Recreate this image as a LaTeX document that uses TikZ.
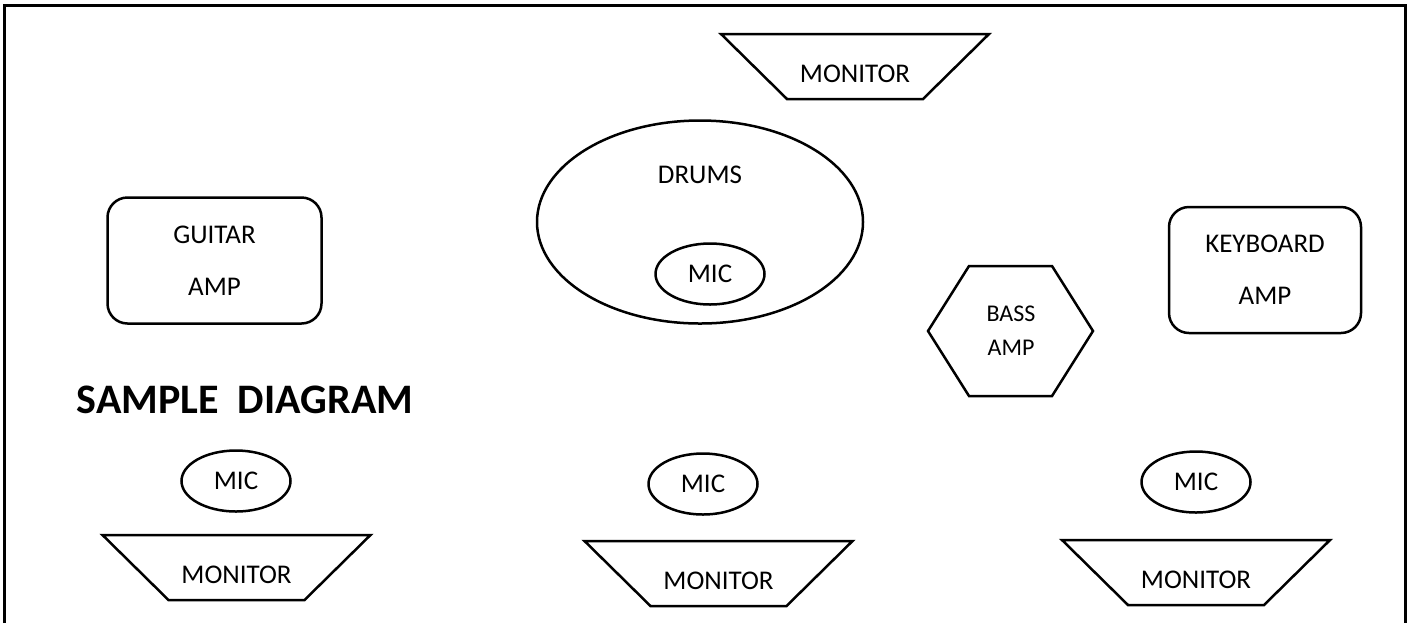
\documentclass[tikz,border=0pt]{standalone}
\usepackage{fontspec}
\setmainfont{Carlito}
\usetikzlibrary{shapes.geometric,positioning}

\tikzset{
  outline/.style={draw,line width=1.25pt},
  part/.style={outline,font=\fontsize{13.5}{16}\selectfont,align=center},
  label/.style={font=\fontsize{13.5}{16}\selectfont,align=center},
  amp/.style={part,rounded corners=10pt,minimum width=#1,minimum height=63pt,font=\fontsize{13.5}{26}\selectfont},
  mic/.style={part,ellipse,inner sep=0pt,minimum width=54.5pt,minimum height=30.5pt},
}
% wedge round a monitor label
\newcommand{\monitorbox}[1]{\draw[outline] (#1.center) ++(-134,-40) -- ++(268,0) -- ++(-66,65) -- ++(-136,0) -- cycle;}

\begin{document}
\begin{tikzpicture}[x=0.5pt,y=-0.5pt]
\useasboundingbox (0,0) rectangle (1411,623);
\draw[line width=1.5pt] (4,623) -- (4,5) -- (1405,5) -- (1405,623);

% back of the stage
\node[label] (montop) at (855,74) {MONITOR};
\monitorbox{montop}
\node[outline,ellipse,minimum width=163pt,minimum height=101.5pt] (drums) at (700,222) {};
\node[label] (drumstext) at (700,175) {DRUMS};
\node[mic] (micdrums) at (710,274) {MIC};

% amps
\node[amp=107pt] (guitar) at (214.5,260.5) {GUITAR\\AMP};
\node[amp=96pt] (keys) at (1265,270) {KEYBOARD\\AMP};
\node[align=center,font=\fontsize{12}{17}\selectfont] (bass) at (1011,331) {BASS\\AMP};
\draw[outline] (bass.center) ++(-83,0) -- ++(41,-65) -- ++(83,0) -- ++(41,65) -- ++(-41,65) -- ++(-83,0) -- cycle;

\node[font=\bfseries\fontsize{21}{24}\selectfont] (title) at (245,400) {SAMPLE~~DIAGRAM};

% front of the stage
\node[mic] (micleft) at (236,481) {MIC};
\node[mic] (micmid) at (703,484) {MIC};
\node[mic] (micright) at (1196,482) {MIC};
\node[label] (monleft) at (236.5,575) {MONITOR};
\node[label] (monmid) at (718.5,581) {MONITOR};
\node[label] (monright) at (1196,580) {MONITOR};
\monitorbox{monleft}
\monitorbox{monmid}
\monitorbox{monright}
\end{tikzpicture}
\end{document}
